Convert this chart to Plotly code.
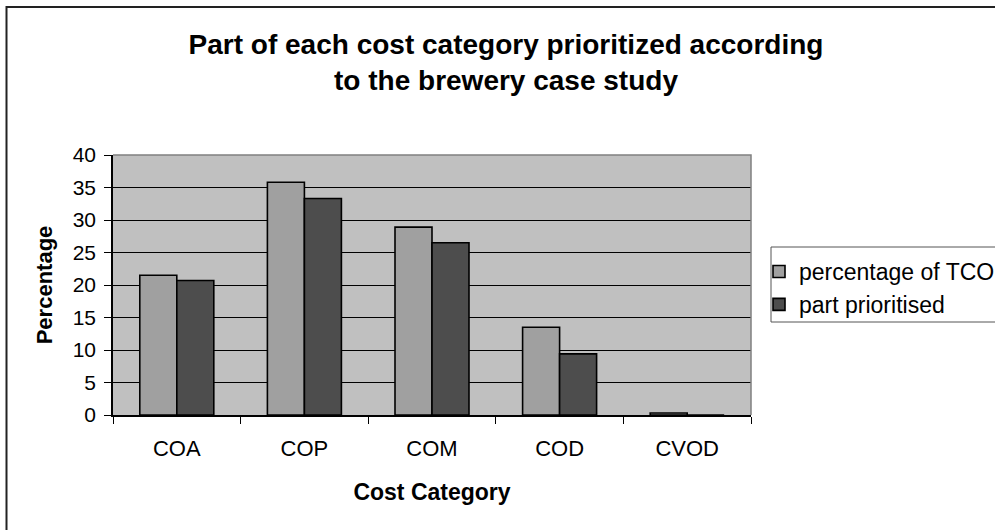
import plotly.graph_objects as go

# Cost categories and the two series (percent)
categories = ["COA", "COP", "COM", "COD", "CVOD"]
pct_of_tco = [21.5, 35.8, 28.9, 13.5, 0.3]
part_prioritised = [20.7, 33.3, 26.5, 9.4, 0.0]
y_ticks = [0, 5, 10, 15, 20, 25, 30, 35, 40]

W, H = 995, 530
L, R, T, B = 113, 244, 155, 115
PW, PH = W - L - R, H - T - B


def px_x(x):
    return (x - L) / PW


def px_y(y):
    return (H - B - y) / PH


FONT = "Arial, 'Liberation Sans', sans-serif"

fig = go.Figure()
fig.add_trace(go.Bar(
    x=categories, y=pct_of_tco, name="percentage of TCO",
    marker=dict(color="#A0A0A0", line=dict(color="#000000", width=1.6)),
))
fig.add_trace(go.Bar(
    x=categories, y=part_prioritised, name="part prioritised",
    marker=dict(color="#4D4D4D", line=dict(color="#000000", width=1.6)),
))

shapes = [
    # outer chart frame (runs past the right and bottom edges)
    dict(type="rect", xref="paper", yref="paper",
         x0=px_x(6.5), x1=px_x(1010), y0=px_y(545), y1=px_y(7),
         line=dict(color="#222222", width=2), layer="below"),
    # grey top/right border of the plot area
    dict(type="path", xref="paper", yref="paper",
         path="M 0 1 L 1 1 L 1 0",
         line=dict(color="#808080", width=1.5), layer="above"),
    # legend frame
    dict(type="rect", xref="paper", yref="paper",
         x0=px_x(771), x1=px_x(1010), y0=px_y(322), y1=px_y(247),
         line=dict(color="#555555", width=1), fillcolor="white", layer="below"),
]

fig.update_layout(
    width=W, height=H,
    margin=dict(l=L, r=R, t=T, b=B, autoexpand=False),
    paper_bgcolor="white",
    plot_bgcolor="#C0C0C0",
    barmode="group",
    bargap=0.42,
    bargroupgap=0.0,
    font=dict(family=FONT, color="#000000"),
    title=dict(
        text="Part of each cost category prioritized according<br>to the brewery case study",
        font=dict(family=FONT, size=28, weight="bold", color="#000000"),
        x=506 / W, xanchor="center", xref="container",
        y=1 - 54 / H, yanchor="middle", yref="container",
    ),
    xaxis=dict(
        type="category",
        tickson="boundaries",
        ticks="outside", ticklen=7, tickcolor="#000000", tickwidth=1,
        showline=True, linecolor="#000000", linewidth=1.5,
        showgrid=False,
        tickfont=dict(size=22, family=FONT),
        ticklabelstandoff=13,
        title=dict(text="Cost Category",
                   font=dict(size=23, weight="bold", family=FONT),
                   standoff=24),
    ),
    yaxis=dict(
        range=[0, 40],
        tickvals=y_ticks,
        ticks="outside", ticklen=7, tickcolor="#000000", tickwidth=1,
        showline=True, linecolor="#000000", linewidth=1.5,
        showgrid=True, gridcolor="#000000", gridwidth=1,
        zeroline=False,
        tickfont=dict(size=21, family=FONT),
        ticklabelstandoff=4,
        title=dict(text="Percentage",
                   font=dict(size=22, weight="bold", family=FONT),
                   standoff=14),
    ),
    legend=dict(
        x=px_x(759), xanchor="left",
        y=px_y(250), yanchor="top",
        bgcolor="rgba(0,0,0,0)", borderwidth=0,
        font=dict(size=23, family=FONT),
        traceorder="normal",
        itemclick=False, itemdoubleclick=False,
    ),
    shapes=shapes,
)

fig.write_html("out.html")
